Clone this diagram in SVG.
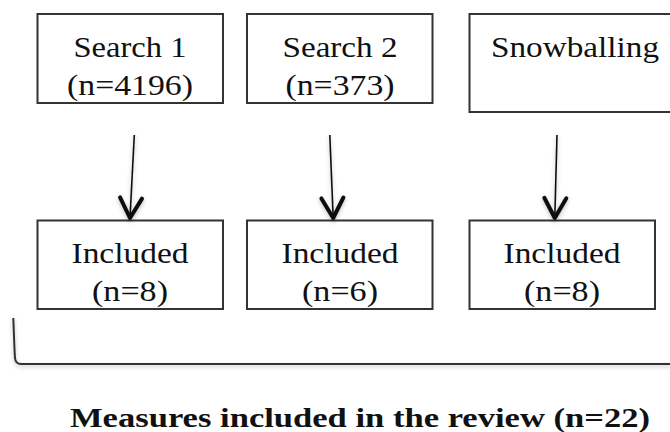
<svg xmlns="http://www.w3.org/2000/svg" width="670" height="432" viewBox="0 0 670 432">
  <style>
    .box { fill: #ffffff; stroke: #333333; stroke-width: 2; }
    .label { font-family: "Liberation Serif", "DejaVu Serif", serif; font-size: 30px; fill: #111111; text-anchor: middle; }
    .title { font-family: "Liberation Serif", "DejaVu Serif", serif; font-size: 27px; font-weight: bold; fill: #111111; text-anchor: middle; }
    .link { fill: none; stroke: #111111; stroke-width: 1.6; marker-end: url(#vhead); }
    .brace { fill: none; stroke: #333333; stroke-width: 2; }
  </style>
  <defs>
    <filter id="soft" x="-10%" y="-20%" width="120%" height="160%">
      <feDropShadow dx="0" dy="2" stdDeviation="2" flood-color="#000000" flood-opacity="0.25"/>
    </filter>
    <marker id="vhead" markerUnits="userSpaceOnUse" viewBox="-26 -14 30 28" refX="0" refY="0" markerWidth="30" markerHeight="28" orient="auto" overflow="visible">
      <path d="M-20,-11 L0,0 L-20,11" fill="none" stroke="#111111" stroke-width="4" stroke-linecap="round" stroke-linejoin="round"/>
    </marker>
  </defs>

  <g id="search1">
    <rect class="box" x="37.5" y="14" width="185.5" height="89"/>
    <text class="label" x="130" y="57" textLength="113" lengthAdjust="spacingAndGlyphs">Search 1</text>
    <text class="label" x="130" y="95" textLength="126" lengthAdjust="spacingAndGlyphs">(n=4196)</text>
  </g>
  <g id="search2">
    <rect class="box" x="247" y="14" width="185.5" height="89"/>
    <text class="label" x="340" y="57" textLength="115" lengthAdjust="spacingAndGlyphs">Search 2</text>
    <text class="label" x="340" y="95" textLength="109" lengthAdjust="spacingAndGlyphs">(n=373)</text>
  </g>
  <g id="snowballing">
    <rect class="box" x="469.5" y="14" width="210" height="98"/>
    <text class="label" x="575" y="57" textLength="168" lengthAdjust="spacingAndGlyphs">Snowballing</text>
  </g>

  <g id="included1">
    <rect class="box" x="37.5" y="220.5" width="185.5" height="88.5"/>
    <text class="label" x="130" y="263" textLength="117" lengthAdjust="spacingAndGlyphs">Included</text>
    <text class="label" x="130" y="301" textLength="76" lengthAdjust="spacingAndGlyphs">(n=8)</text>
  </g>
  <g id="included2">
    <rect class="box" x="247" y="220.5" width="185.5" height="88.5"/>
    <text class="label" x="340" y="263" textLength="117" lengthAdjust="spacingAndGlyphs">Included</text>
    <text class="label" x="340" y="301" textLength="76" lengthAdjust="spacingAndGlyphs">(n=6)</text>
  </g>
  <g id="included3">
    <rect class="box" x="469.5" y="220.5" width="185.5" height="88.5"/>
    <text class="label" x="562" y="263" textLength="117" lengthAdjust="spacingAndGlyphs">Included</text>
    <text class="label" x="562" y="301" textLength="76" lengthAdjust="spacingAndGlyphs">(n=8)</text>
  </g>

  <g id="connectors" filter="url(#soft)">
    <path class="link" d="M134.3,135 L130,218"/>
    <path class="link" d="M329.8,135 L333.2,218"/>
    <path class="link" d="M557,135 L554.8,218"/>
    <path class="brace" d="M13.3,318 C14,335 14.5,352 15,358 Q15.5,364 21,364 L672,364"/>
  </g>

  <g id="summary">
    <text class="title" x="360" y="427" textLength="580" lengthAdjust="spacingAndGlyphs">Measures included in the review (n=22)</text>
  </g>
</svg>
